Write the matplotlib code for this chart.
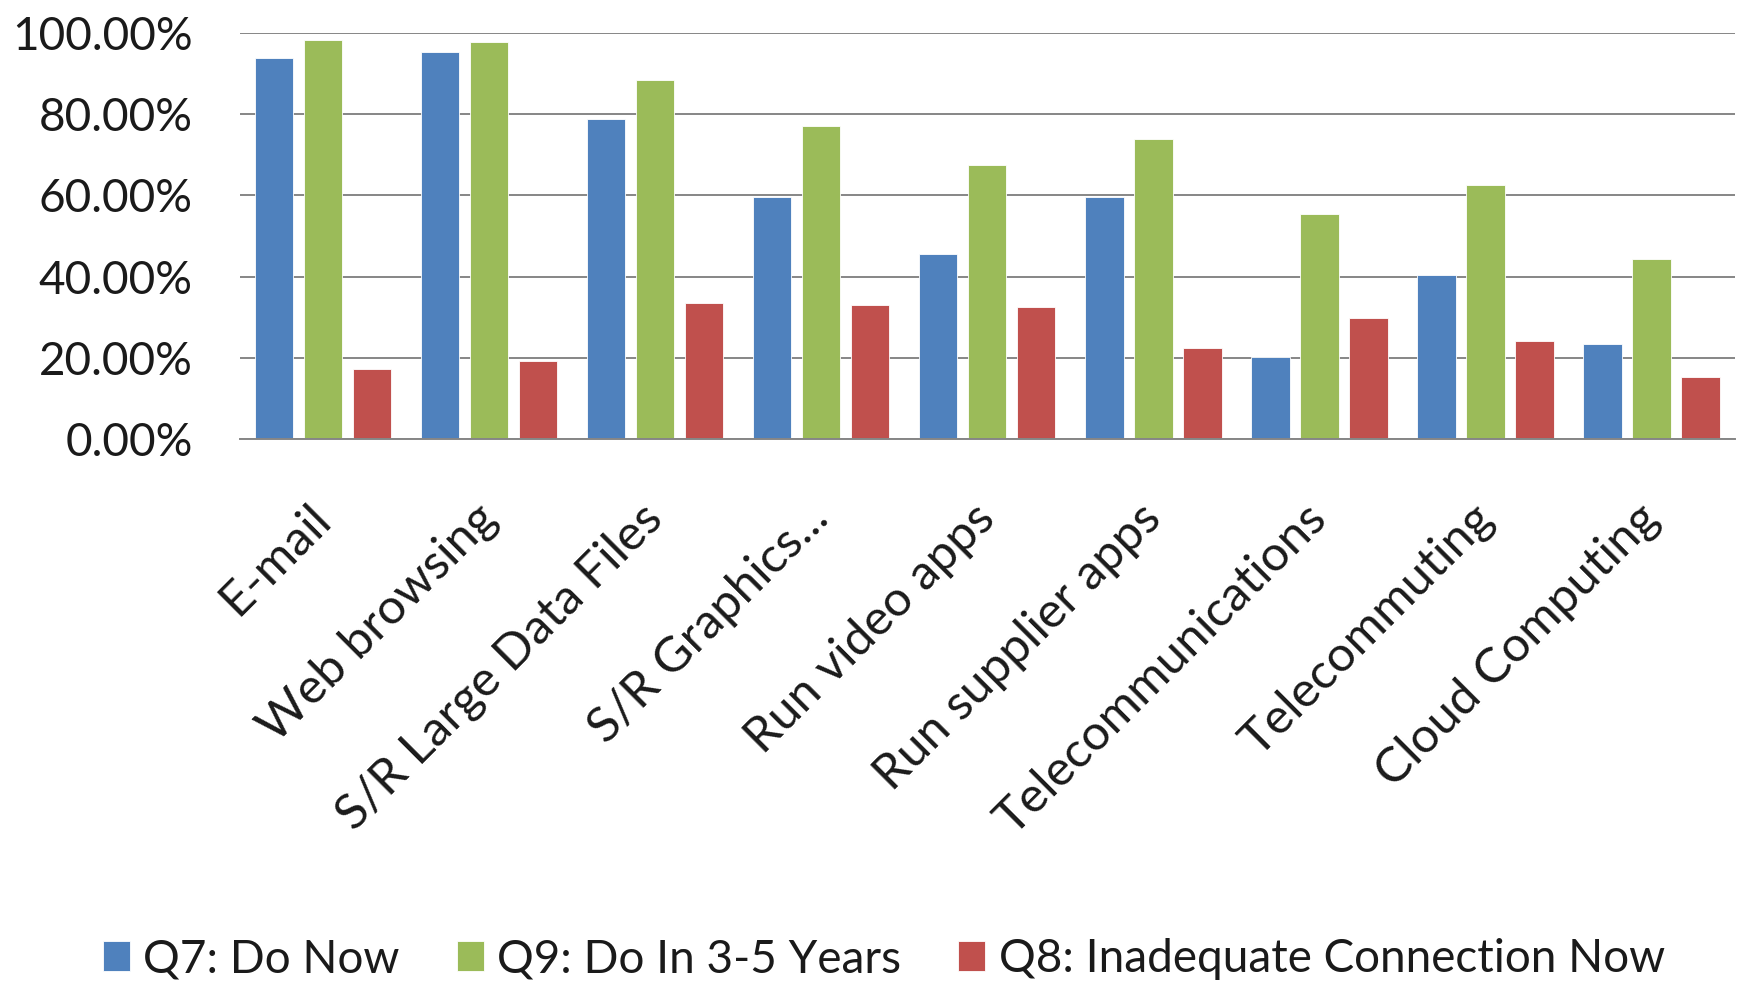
import numpy as np
import matplotlib
matplotlib.use("Agg")
import matplotlib.pyplot as plt
from matplotlib.ticker import FuncFormatter

plt.rcParams['font.family'] = ['Lato', 'DejaVu Sans']

categories = ["E-mail", "Web browsing", "S/R Large Data Files", "S/R Graphics...",
              "Run video apps", "Run supplier apps", "Telecommunications",
              "Telecommuting", "Cloud Computing"]
series_names = ["Q7: Do Now", "Q9: Do In 3-5 Years", "Q8: Inadequate Connection Now"]
do_now = [0.939, 0.952, 0.789, 0.596, 0.455, 0.596, 0.202, 0.404, 0.235]
in_3_5_years = [0.983, 0.977, 0.883, 0.770, 0.676, 0.738, 0.555, 0.625, 0.443]
inadequate_now = [0.172, 0.192, 0.336, 0.330, 0.324, 0.223, 0.297, 0.241, 0.153]
colors = ["#4F81BD", "#9BBB59", "#C0504D"]

fig = plt.figure(figsize=(17.38, 9.84), dpi=100)
ax = fig.add_axes([0.138, 0.5539, 0.860, 0.4126])

x = np.arange(len(categories))
width = 0.232
step = 0.295
for i, vals in enumerate([do_now, in_3_5_years, inadequate_now]):
    ax.bar(x + (i - 1) * step, vals, width, color=colors[i], label=series_names[i],
           edgecolor="white", linewidth=0.6, zorder=3)

ax.set_xlim(-0.5, len(categories) - 0.5)
ax.set_ylim(0, 1.0)
ax.set_yticks(np.arange(0, 1.01, 0.2))
ax.yaxis.set_major_formatter(FuncFormatter(lambda v, _: f"{v * 100:.2f}%"))
ax.grid(axis="y", color="#868686", linewidth=1.4, zorder=0)
ax.set_axisbelow(True)

for side in ["top", "right", "left"]:
    ax.spines[side].set_visible(False)
ax.spines["bottom"].set_color("#868686")
ax.spines["bottom"].set_linewidth(1.4)
ax.spines["bottom"].set_zorder(4)

ax.tick_params(axis="y", length=0, pad=34, labelsize=33, labelcolor="#1a1a1a")
ax.tick_params(axis="x", length=0, pad=52, labelsize=35.5, labelcolor="#1a1a1a")
ax.set_xticks(x)
ax.set_xticklabels(categories, rotation=45, ha="right", va="center", rotation_mode="anchor")

fig.legend(loc="center", bbox_to_anchor=(0.5086, 0.0254), ncol=3, frameon=False,
           fontsize=33, handlelength=0.59, handleheight=0.65, handletextpad=0.3,
           columnspacing=1.24, labelcolor="#1a1a1a")

fig.savefig("out.png", dpi=100, facecolor="white")
